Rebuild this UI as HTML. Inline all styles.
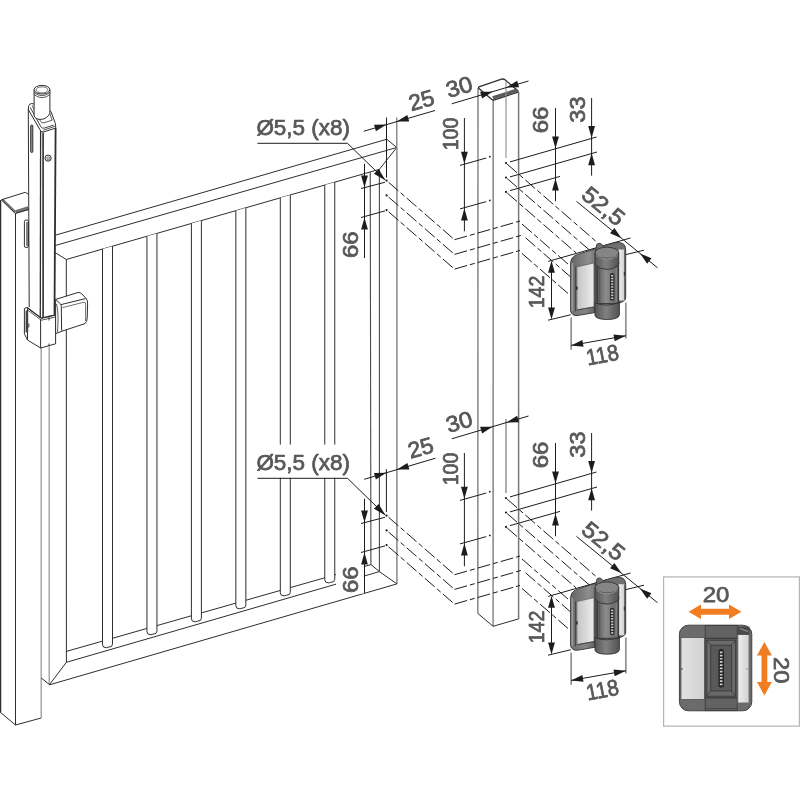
<!DOCTYPE html>
<html><head><meta charset="utf-8"><title>diagram</title>
<style>html,body{margin:0;padding:0;background:#fff;}body{width:800px;height:800px;overflow:hidden;font-family:"Liberation Sans",sans-serif;}svg{display:block;}svg text{filter:grayscale(1);}</style></head>
<body>
<svg width="800" height="800" viewBox="0 0 800 800" font-family="'Liberation Sans', sans-serif" stroke-linecap="butt">
<defs>
<linearGradient id="silv" x1="0" y1="0" x2="1" y2="0"><stop offset="0" stop-color="#c4c4c4"/><stop offset="1" stop-color="#ededed"/></linearGradient>
<linearGradient id="silv2" x1="0" y1="0" x2="1" y2="0"><stop offset="0" stop-color="#f2f2f2"/><stop offset="1" stop-color="#cfcfcf"/></linearGradient>
<linearGradient id="silv3" x1="0" y1="0" x2="1" y2="0"><stop offset="0" stop-color="#e2e2e2"/><stop offset="1" stop-color="#d0d0d0"/></linearGradient>
<linearGradient id="silv4" x1="0" y1="0" x2="1" y2="0"><stop offset="0" stop-color="#f0f0f0"/><stop offset="0.35" stop-color="#e4e4e4"/><stop offset="1" stop-color="#d4d4d4"/></linearGradient>
<linearGradient id="leafg" x1="0" y1="0" x2="1" y2="0"><stop offset="0" stop-color="#707070"/><stop offset="0.6" stop-color="#858585"/><stop offset="1" stop-color="#626262"/></linearGradient>
<linearGradient id="capg" x1="0" y1="0" x2="1" y2="0"><stop offset="0" stop-color="#666"/><stop offset="0.75" stop-color="#8e8e8e"/><stop offset="1" stop-color="#777"/></linearGradient>
<linearGradient id="barg" x1="0" y1="0" x2="1" y2="0"><stop offset="0" stop-color="#565656"/><stop offset="0.45" stop-color="#808080"/><stop offset="1" stop-color="#515151"/></linearGradient>
<linearGradient id="barm" x1="0" y1="0" x2="1" y2="0"><stop offset="0" stop-color="#5c5c5c"/><stop offset="0.4" stop-color="#8c8c8c"/><stop offset="1" stop-color="#606060"/></linearGradient>
</defs>
<rect width="800" height="800" fill="#fff"/>
<line x1="15.60" y1="211.80" x2="28.40" y2="208.00" stroke="#707070" stroke-width="3.4" />
<line x1="2.40" y1="199.60" x2="15.40" y2="212.20" stroke="#777" stroke-width="2.4" />
<line x1="0.55" y1="200.00" x2="0.55" y2="712.00" stroke="#2e2e2e" stroke-width="1.4" />
<path d="M1.4,199.8 L25.2,192.3 L28.5,194.3" stroke="#2e2e2e" stroke-width="1.0" fill="none" />
<path d="M1.4,199.8 L15.3,213.5 L28.5,209.6" stroke="#2e2e2e" stroke-width="1.0" fill="none" />
<line x1="15.50" y1="213.00" x2="15.50" y2="725.00" stroke="#2e2e2e" stroke-width="1.0" />
<path d="M0,712 L15.5,725 L41.2,718" stroke="#2e2e2e" stroke-width="1.0" fill="none" />
<rect x="24.4" y="220" width="4" height="27.5" rx="1.6" fill="#fff" stroke="#2e2e2e" stroke-width="1"/>
<line x1="27.00" y1="222.00" x2="27.00" y2="246.00" stroke="#555" stroke-width="1.4" />
<line x1="55.00" y1="235.30" x2="386.75" y2="139.25" stroke="#2e2e2e" stroke-width="1.0" />
<line x1="55.00" y1="245.60" x2="396.75" y2="147.50" stroke="#2e2e2e" stroke-width="1.0" />
<line x1="66.25" y1="259.50" x2="379.40" y2="169.30" stroke="#2e2e2e" stroke-width="1.0" />
<line x1="386.75" y1="139.25" x2="396.75" y2="147.50" stroke="#2e2e2e" stroke-width="1.0" />
<line x1="396.75" y1="147.50" x2="379.40" y2="169.30" stroke="#2e2e2e" stroke-width="1.0" />
<line x1="55.00" y1="252.50" x2="66.25" y2="259.50" stroke="#2e2e2e" stroke-width="1.0" />
<line x1="66.30" y1="259.50" x2="66.40" y2="662.30" stroke="#2e2e2e" stroke-width="1.0" />
<line x1="41.20" y1="348.00" x2="41.20" y2="718.00" stroke="#9a9a9a" stroke-width="1.3" />
<line x1="49.20" y1="347.00" x2="49.20" y2="684.40" stroke="#9a9a9a" stroke-width="1.3" />
<path d="M41.2,678 L49.5,684.6 L66.4,662.3" stroke="#2e2e2e" stroke-width="1.0" fill="none" />
<line x1="66.40" y1="651.40" x2="371.00" y2="564.60" stroke="#2e2e2e" stroke-width="1.0" />
<line x1="66.40" y1="662.30" x2="379.40" y2="571.60" stroke="#2e2e2e" stroke-width="1.0" />
<line x1="49.50" y1="684.80" x2="396.90" y2="583.90" stroke="#2e2e2e" stroke-width="1.0" />
<line x1="370.25" y1="171.95" x2="370.90" y2="564.60" stroke="#4a4a4a" stroke-width="1.1" />
<line x1="379.40" y1="169.30" x2="379.40" y2="571.60" stroke="#4a4a4a" stroke-width="1.1" />
<line x1="396.90" y1="147.50" x2="396.90" y2="583.90" stroke="#8e8e8e" stroke-width="1.6" />
<path d="M371,564.6 L379.4,571.6 L396.9,583.9" stroke="#2e2e2e" stroke-width="1.0" fill="none" />
<path d="M102.50,249.06 L102.50,644.75 Q102.50,647.75 106.50,647.75 L108.50,647.15 Q112.50,647.15 112.50,644.15 L112.50,246.18" stroke="#2e2e2e" stroke-width="1.0" fill="#fff" />
<path d="M146.95,236.26 L146.95,631.78 Q146.95,634.78 150.95,634.78 L152.95,634.18 Q156.95,634.18 156.95,631.18 L156.95,233.38" stroke="#2e2e2e" stroke-width="1.0" fill="#fff" />
<path d="M191.40,223.46 L191.40,618.82 Q191.40,621.82 195.40,621.82 L197.40,621.22 Q201.40,621.22 201.40,618.22 L201.40,220.58" stroke="#2e2e2e" stroke-width="1.0" fill="#fff" />
<path d="M235.85,210.66 L235.85,605.85 Q235.85,608.85 239.85,608.85 L241.85,608.25 Q245.85,608.25 245.85,605.25 L245.85,207.78" stroke="#2e2e2e" stroke-width="1.0" fill="#fff" />
<path d="M280.30,197.85 L280.30,592.89 Q280.30,595.89 284.30,595.89 L286.30,595.29 Q290.30,595.29 290.30,592.29 L290.30,194.97" stroke="#2e2e2e" stroke-width="1.0" fill="#fff" />
<path d="M324.75,185.05 L324.75,579.92 Q324.75,582.92 328.75,582.92 L330.75,582.32 Q334.75,582.32 334.75,579.32 L334.75,182.17" stroke="#2e2e2e" stroke-width="1.0" fill="#fff" />
<path d="M28.3,110 L28.6,106.2 Q29.3,103.8 31.4,103.5 L35,104.2" stroke="#2e2e2e" stroke-width="1.0" fill="none" />
<path d="M49.9,111 L51,111.6 L55.4,123.5 L55.8,128 L43.8,131.9 Q41.6,132.2 40.6,130.8 L28.3,109.6" stroke="#2e2e2e" stroke-width="1.0" fill="none" />
<path d="M30.2,107.4 L40.9,126.8 Q42.2,128.8 44.6,128 L53.8,125" stroke="#2e2e2e" stroke-width="0.9" fill="none" />
<path d="M32,105.4 L40.6,121.4 Q41.8,123.4 44,122.8 L52.2,120.2 L49.8,113.4" stroke="#2e2e2e" stroke-width="0.8" fill="none" />
<path d="M43.2,130.2 L54.8,126.4" stroke="#2e2e2e" stroke-width="0.8" fill="none" />
<path d="M34.1,89.6 L34.1,116 Q36,119.8 41.5,119.4 Q47,118.8 49.9,113.4 L49.9,89.6" stroke="#2e2e2e" stroke-width="1.0" fill="#fff" />
<ellipse cx="42" cy="89.7" rx="7.9" ry="4.3" fill="#fff" stroke="#2e2e2e" stroke-width="1"/>
<ellipse cx="42" cy="89.9" rx="6" ry="3" fill="none" stroke="#555" stroke-width="0.8"/>
<path d="M34.1,92.6 Q42,98.8 49.9,92.6" stroke="#2e2e2e" stroke-width="0.8" fill="none" />
<path d="M34.1,94.6 Q42,100.8 49.9,94.6" stroke="#2e2e2e" stroke-width="0.8" fill="none" />
<line x1="28.30" y1="109.50" x2="29.20" y2="307.00" stroke="#2e2e2e" stroke-width="1.0" />
<line x1="40.60" y1="131.00" x2="40.30" y2="318.00" stroke="#2e2e2e" stroke-width="1.3" />
<line x1="43.10" y1="132.40" x2="43.10" y2="318.00" stroke="#2e2e2e" stroke-width="1.6" />
<line x1="55.60" y1="128.00" x2="54.50" y2="315.00" stroke="#2e2e2e" stroke-width="1.8" />
<rect x="30.7" y="125" width="2.1" height="27.5" rx="1" fill="#9a9a9a" stroke="#2e2e2e" stroke-width="1"/>
<circle cx="48.1" cy="158.1" r="3.1" fill="#fff" stroke="#2e2e2e" stroke-width="1"/>
<circle cx="48.4" cy="158.4" r="1.7" fill="#bbb" stroke="#555" stroke-width="0.6"/>
<path d="M27,307.5 L24.4,308.5 L24.4,333.8 L27.5,340 L40.6,348 L55.6,343.8 L55.6,315 L41.3,318.2 Z" stroke="#2e2e2e" stroke-width="1.0" fill="#fff" />
<path d="M27,307.5 L41.3,318.2 L55.6,315" stroke="#2e2e2e" stroke-width="1.2" fill="none" />
<path d="M27,309.6 L41.3,320.2 L55.6,317" stroke="#2e2e2e" stroke-width="0.8" fill="none" />
<line x1="27.50" y1="309.00" x2="27.50" y2="340.00" stroke="#2e2e2e" stroke-width="1.0" />
<line x1="40.60" y1="319.00" x2="40.60" y2="348.00" stroke="#2e2e2e" stroke-width="1.0" />
<line x1="26.90" y1="310.50" x2="26.90" y2="332.50" stroke="#444" stroke-width="2.6" />
<path d="M27.5,324 L29,324 L29,327 L27.5,327" stroke="#2e2e2e" stroke-width="0.8" fill="none" />
<line x1="49.00" y1="315.50" x2="49.00" y2="320.50" stroke="#2e2e2e" stroke-width="0.9" />
<line x1="49.00" y1="343.50" x2="49.00" y2="346.50" stroke="#2e2e2e" stroke-width="0.9" />
<path d="M55.6,299.4 L78,292.5 Q80,292.2 81.5,293.6 L86.2,298.6 Q87.8,300.5 87.6,304 L87.2,318 Q87,322 85,323.6 L62.5,331 L56,333.5 L55.6,333 Z" stroke="#2e2e2e" stroke-width="1.0" fill="#fff" />
<path d="M55.6,299.4 L60.6,304 Q61.4,305 61.3,307 L61.6,329 Q61.6,330.6 62.5,331" stroke="#2e2e2e" stroke-width="1.0" fill="none" />
<path d="M61,304.6 L85.6,298.6" stroke="#2e2e2e" stroke-width="1.0" fill="none" />
<path d="M62.5,307.6 L84,302.2 Q85.6,302 85.6,304 L85.6,321" stroke="#2e2e2e" stroke-width="0.7" fill="none" />
<path d="M56.5,304 Q59,312 57.5,332" stroke="#2e2e2e" stroke-width="0.8" fill="none" />
<line x1="478.00" y1="88.00" x2="477.80" y2="613.40" stroke="#8e8e8e" stroke-width="1.6" />
<line x1="493.20" y1="100.00" x2="493.10" y2="626.30" stroke="#8e8e8e" stroke-width="1.6" />
<line x1="518.60" y1="92.00" x2="518.60" y2="618.90" stroke="#777" stroke-width="1.5" />
<path d="M477.8,613.4 L493.1,626.3 L518.6,618.9" stroke="#2e2e2e" stroke-width="1.0" fill="none" />
<path d="M479.6,86.6 L501.5,79.2 Q503.5,78.6 505,79.8 L517.6,90.4 Q518.9,91.6 517.3,92.4 L494.6,99.8 Q493,100.4 491.6,99.2 L479,88.6 Q477.8,87.4 479.6,86.6 Z" stroke="#2e2e2e" stroke-width="1.25" fill="#fff" />
<path d="M493.6,99.6 L517.6,91.9 L516.4,88.6 L492.2,96.3 Z" stroke="none" stroke-width="0" fill="#5c5c5c" />
<g transform="translate(0,0)">
<text transform="translate(303.20,126.60) rotate(0)" x="0" y="8.05" text-anchor="middle" font-size="22.5" font-weight="normal" fill="#58585a" stroke="#58585a" stroke-width="0.75" stroke-linejoin="round" textLength="93.6" lengthAdjust="spacingAndGlyphs">Ø5,5 (x8)</text>
<path d="M257.5,143.3 L347.5,143.3 L385.4,180.2" stroke="#1c1c1c" stroke-width="1.0" fill="none" />
<polygon points="385.60,180.40 373.98,173.70 378.59,168.97" fill="#1c1c1c"/>
<line x1="386.50" y1="117.50" x2="386.50" y2="177.50" stroke="#1c1c1c" stroke-width="1.0" />
<line x1="396.75" y1="117.50" x2="396.75" y2="147.00" stroke="#8e8e8e" stroke-width="1.5" />
<line x1="363.75" y1="131.25" x2="435.00" y2="110.50" stroke="#1c1c1c" stroke-width="1.0" />
<polygon points="386.50,124.60 375.93,131.22 374.03,124.69" fill="#1c1c1c"/>
<polygon points="396.75,121.60 407.32,114.98 409.22,121.51" fill="#1c1c1c"/>
<text transform="translate(421.30,100.00) rotate(-16)" x="0" y="8.05" text-anchor="middle" font-size="22.5" font-weight="normal" fill="#58585a" stroke="#58585a" stroke-width="0.75" stroke-linejoin="round" textLength="25.6" lengthAdjust="spacingAndGlyphs">25</text>
<line x1="364.50" y1="163.75" x2="364.50" y2="258.00" stroke="#1c1c1c" stroke-width="1.0" />
<polygon points="364.50,187.60 361.10,175.60 367.90,175.60" fill="#1c1c1c"/>
<polygon points="364.50,217.60 367.90,229.60 361.10,229.60" fill="#1c1c1c"/>
<line x1="361.00" y1="188.50" x2="385.00" y2="182.25" stroke="#1c1c1c" stroke-width="1.0" />
<line x1="361.00" y1="217.50" x2="385.00" y2="210.90" stroke="#1c1c1c" stroke-width="1.0" />
<text transform="translate(350.00,244.70) rotate(-90)" x="0" y="8.05" text-anchor="middle" font-size="22.5" font-weight="normal" fill="#58585a" stroke="#58585a" stroke-width="0.75" stroke-linejoin="round" textLength="26.6" lengthAdjust="spacingAndGlyphs">66</text>
<circle cx="386.6" cy="180.6" r="1.1" fill="#1c1c1c"/>
<circle cx="386.6" cy="195.4" r="1.1" fill="#1c1c1c"/>
<circle cx="386.6" cy="210.1" r="1.1" fill="#1c1c1c"/>
<line x1="388.60" y1="182.30" x2="454.50" y2="239.70" stroke="#1c1c1c" stroke-width="1.0" stroke-dasharray="13 3 5 3"/>
<line x1="454.50" y1="239.70" x2="520.00" y2="221.03" stroke="#1c1c1c" stroke-width="1.0" stroke-dasharray="13 3 5 3"/>
<line x1="522.00" y1="224.03" x2="570.00" y2="265.79" stroke="#1c1c1c" stroke-width="1.0" stroke-dasharray="13 3 5 3"/>
<line x1="388.60" y1="197.10" x2="454.50" y2="254.40" stroke="#1c1c1c" stroke-width="1.0" stroke-dasharray="13 3 5 3"/>
<line x1="454.50" y1="254.40" x2="523.50" y2="234.73" stroke="#1c1c1c" stroke-width="1.0" stroke-dasharray="13 3 5 3"/>
<line x1="525.50" y1="237.73" x2="570.00" y2="276.45" stroke="#1c1c1c" stroke-width="1.0" stroke-dasharray="13 3 5 3"/>
<line x1="388.60" y1="211.80" x2="454.50" y2="269.10" stroke="#1c1c1c" stroke-width="1.0" stroke-dasharray="13 3 5 3"/>
<line x1="454.50" y1="269.10" x2="520.00" y2="250.43" stroke="#1c1c1c" stroke-width="1.0" stroke-dasharray="13 3 5 3"/>
<line x1="522.00" y1="253.43" x2="570.00" y2="295.19" stroke="#1c1c1c" stroke-width="1.0" stroke-dasharray="13 3 5 3"/>
<circle cx="506" cy="163.1" r="1.1" fill="#1c1c1c"/>
<circle cx="506" cy="177.5" r="1.1" fill="#1c1c1c"/>
<circle cx="506" cy="191.9" r="1.1" fill="#1c1c1c"/>
<circle cx="489.8" cy="156.7" r="0.9" fill="#1c1c1c"/>
<circle cx="489.8" cy="200.4" r="0.9" fill="#1c1c1c"/>
<line x1="507.20" y1="164.20" x2="597.00" y2="242.27" stroke="#1c1c1c" stroke-width="1.0" stroke-dasharray="13 3 5 3"/>
<line x1="507.20" y1="178.60" x2="589.00" y2="249.71" stroke="#1c1c1c" stroke-width="1.0" stroke-dasharray="13 3 5 3"/>
<line x1="507.20" y1="193.00" x2="576.00" y2="252.80" stroke="#1c1c1c" stroke-width="1.0" stroke-dasharray="13 3 5 3"/>
<line x1="506.00" y1="81.00" x2="506.00" y2="158.00" stroke="#8e8e8e" stroke-width="1.1" />
<line x1="451.75" y1="103.80" x2="528.50" y2="81.00" stroke="#1c1c1c" stroke-width="1.0" />
<polygon points="492.60,91.70 482.07,98.38 480.13,91.86" fill="#1c1c1c"/>
<polygon points="506.60,87.50 517.13,80.82 519.07,87.34" fill="#1c1c1c"/>
<text transform="translate(459.00,86.60) rotate(-16)" x="0" y="8.05" text-anchor="middle" font-size="22.5" font-weight="normal" fill="#58585a" stroke="#58585a" stroke-width="0.75" stroke-linejoin="round" textLength="26.6" lengthAdjust="spacingAndGlyphs">30</text>
<line x1="464.40" y1="118.00" x2="464.40" y2="231.25" stroke="#1c1c1c" stroke-width="1.0" />
<polygon points="464.40,163.80 461.00,151.80 467.80,151.80" fill="#1c1c1c"/>
<polygon points="464.40,208.60 467.80,220.60 461.00,220.60" fill="#1c1c1c"/>
<line x1="460.00" y1="165.40" x2="486.25" y2="158.00" stroke="#1c1c1c" stroke-width="1.0" />
<line x1="460.00" y1="208.90" x2="486.25" y2="201.60" stroke="#1c1c1c" stroke-width="1.0" />
<text transform="translate(449.60,134.00) rotate(-90)" x="0" y="8.05" text-anchor="middle" font-size="22.5" font-weight="normal" fill="#58585a" stroke="#58585a" stroke-width="0.75" stroke-linejoin="round" textLength="32.6" lengthAdjust="spacingAndGlyphs">100</text>
<line x1="555.50" y1="108.00" x2="555.50" y2="201.25" stroke="#1c1c1c" stroke-width="1.0" />
<polygon points="555.50,148.40 552.10,136.40 558.90,136.40" fill="#1c1c1c"/>
<polygon points="555.50,178.60 558.90,190.60 552.10,190.60" fill="#1c1c1c"/>
<line x1="510.00" y1="161.90" x2="596.50" y2="137.00" stroke="#1c1c1c" stroke-width="1.0" />
<line x1="510.00" y1="176.90" x2="597.00" y2="152.00" stroke="#1c1c1c" stroke-width="1.0" />
<line x1="510.00" y1="190.60" x2="560.00" y2="176.40" stroke="#1c1c1c" stroke-width="1.0" />
<text transform="translate(540.00,120.00) rotate(-90)" x="0" y="8.05" text-anchor="middle" font-size="22.5" font-weight="normal" fill="#58585a" stroke="#58585a" stroke-width="0.75" stroke-linejoin="round" textLength="26.6" lengthAdjust="spacingAndGlyphs">66</text>
<line x1="591.60" y1="98.00" x2="591.60" y2="175.60" stroke="#1c1c1c" stroke-width="1.0" />
<polygon points="591.60,138.00 588.20,126.00 595.00,126.00" fill="#1c1c1c"/>
<polygon points="591.60,153.20 595.00,165.20 588.20,165.20" fill="#1c1c1c"/>
<text transform="translate(576.50,109.60) rotate(-90)" x="0" y="8.05" text-anchor="middle" font-size="22.5" font-weight="normal" fill="#58585a" stroke="#58585a" stroke-width="0.75" stroke-linejoin="round" textLength="26.1" lengthAdjust="spacingAndGlyphs">33</text>
<line x1="576.50" y1="201.40" x2="657.50" y2="267.75" stroke="#1c1c1c" stroke-width="1.0" />
<polygon points="621.50,238.30 610.06,233.33 614.37,228.07" fill="#1c1c1c"/>
<polygon points="640.00,253.40 651.44,258.37 647.13,263.63" fill="#1c1c1c"/>
<line x1="548.20" y1="261.40" x2="630.50" y2="238.00" stroke="#1c1c1c" stroke-width="1.0" />
<line x1="621.00" y1="255.80" x2="644.00" y2="250.20" stroke="#1c1c1c" stroke-width="1.0" />
<text transform="translate(603.60,205.80) rotate(39.3)" x="0" y="8.05" text-anchor="middle" font-size="22.5" font-weight="normal" fill="#58585a" stroke="#58585a" stroke-width="0.75" stroke-linejoin="round" textLength="47.6" lengthAdjust="spacingAndGlyphs">52,5</text>
<line x1="551.50" y1="261.90" x2="551.50" y2="318.20" stroke="#1c1c1c" stroke-width="1.0" />
<polygon points="551.50,260.80 554.90,272.80 548.10,272.80" fill="#1c1c1c"/>
<polygon points="551.50,319.40 548.10,307.40 554.90,307.40" fill="#1c1c1c"/>
<line x1="548.00" y1="320.20" x2="570.75" y2="314.75" stroke="#1c1c1c" stroke-width="1.0" />
<text transform="translate(535.75,292.00) rotate(-90)" x="0" y="8.05" text-anchor="middle" font-size="22.5" font-weight="normal" fill="#58585a" stroke="#58585a" stroke-width="0.75" stroke-linejoin="round" textLength="32.6" lengthAdjust="spacingAndGlyphs">142</text>
<line x1="571.10" y1="317.40" x2="571.10" y2="349.75" stroke="#555" stroke-width="1.1" />
<line x1="625.90" y1="302.50" x2="625.90" y2="338.40" stroke="#555" stroke-width="1.1" />
<line x1="571.10" y1="345.40" x2="625.90" y2="335.75" stroke="#1c1c1c" stroke-width="1.0" />
<polygon points="571.10,345.40 582.33,339.97 583.51,346.67" fill="#1c1c1c"/>
<polygon points="625.90,335.75 614.67,341.18 613.49,334.48" fill="#1c1c1c"/>
<text transform="translate(602.30,354.60) rotate(-11)" x="0" y="8.05" text-anchor="middle" font-size="22.5" font-weight="normal" fill="#58585a" stroke="#58585a" stroke-width="0.75" stroke-linejoin="round" textLength="32.6" lengthAdjust="spacingAndGlyphs">118</text>
</g>
<g transform="translate(0,335)">
<rect x="255" y="109.6" width="97" height="33.2" fill="#fff"/>
<text transform="translate(303.20,126.60) rotate(0)" x="0" y="8.05" text-anchor="middle" font-size="22.5" font-weight="normal" fill="#58585a" stroke="#58585a" stroke-width="0.75" stroke-linejoin="round" textLength="93.6" lengthAdjust="spacingAndGlyphs">Ø5,5 (x8)</text>
<path d="M257.5,143.3 L347.5,143.3 L385.4,180.2" stroke="#1c1c1c" stroke-width="1.0" fill="none" />
<polygon points="385.60,180.40 373.98,173.70 378.59,168.97" fill="#1c1c1c"/>
<line x1="386.40" y1="134.25" x2="386.40" y2="177.00" stroke="#1c1c1c" stroke-width="1.0" />
<line x1="364.20" y1="144.30" x2="435.50" y2="123.20" stroke="#1c1c1c" stroke-width="1.0" />
<polygon points="386.40,137.80 375.86,144.47 373.93,137.94" fill="#1c1c1c"/>
<polygon points="396.90,134.60 407.44,127.93 409.37,134.46" fill="#1c1c1c"/>
<text transform="translate(420.60,112.50) rotate(-16)" x="0" y="8.05" text-anchor="middle" font-size="22.5" font-weight="normal" fill="#58585a" stroke="#58585a" stroke-width="0.75" stroke-linejoin="round" textLength="25.6" lengthAdjust="spacingAndGlyphs">25</text>
<rect x="336" y="222" width="27.8" height="36.5" fill="#fff"/>
<line x1="364.50" y1="163.75" x2="364.50" y2="258.00" stroke="#1c1c1c" stroke-width="1.0" />
<polygon points="364.50,187.60 361.10,175.60 367.90,175.60" fill="#1c1c1c"/>
<polygon points="364.50,217.60 367.90,229.60 361.10,229.60" fill="#1c1c1c"/>
<line x1="361.00" y1="188.50" x2="385.00" y2="182.25" stroke="#1c1c1c" stroke-width="1.0" />
<line x1="361.00" y1="217.50" x2="385.00" y2="210.90" stroke="#1c1c1c" stroke-width="1.0" />
<text transform="translate(350.00,244.70) rotate(-90)" x="0" y="8.05" text-anchor="middle" font-size="22.5" font-weight="normal" fill="#58585a" stroke="#58585a" stroke-width="0.75" stroke-linejoin="round" textLength="26.6" lengthAdjust="spacingAndGlyphs">66</text>
<circle cx="386.6" cy="180.6" r="1.1" fill="#1c1c1c"/>
<circle cx="386.6" cy="195.4" r="1.1" fill="#1c1c1c"/>
<circle cx="386.6" cy="210.1" r="1.1" fill="#1c1c1c"/>
<line x1="388.60" y1="182.30" x2="454.50" y2="239.70" stroke="#1c1c1c" stroke-width="1.0" stroke-dasharray="13 3 5 3"/>
<line x1="454.50" y1="239.70" x2="520.00" y2="221.03" stroke="#1c1c1c" stroke-width="1.0" stroke-dasharray="13 3 5 3"/>
<line x1="522.00" y1="224.03" x2="570.00" y2="265.79" stroke="#1c1c1c" stroke-width="1.0" stroke-dasharray="13 3 5 3"/>
<line x1="388.60" y1="197.10" x2="454.50" y2="254.40" stroke="#1c1c1c" stroke-width="1.0" stroke-dasharray="13 3 5 3"/>
<line x1="454.50" y1="254.40" x2="523.50" y2="234.73" stroke="#1c1c1c" stroke-width="1.0" stroke-dasharray="13 3 5 3"/>
<line x1="525.50" y1="237.73" x2="570.00" y2="276.45" stroke="#1c1c1c" stroke-width="1.0" stroke-dasharray="13 3 5 3"/>
<line x1="388.60" y1="211.80" x2="454.50" y2="269.10" stroke="#1c1c1c" stroke-width="1.0" stroke-dasharray="13 3 5 3"/>
<line x1="454.50" y1="269.10" x2="520.00" y2="250.43" stroke="#1c1c1c" stroke-width="1.0" stroke-dasharray="13 3 5 3"/>
<line x1="522.00" y1="253.43" x2="570.00" y2="295.19" stroke="#1c1c1c" stroke-width="1.0" stroke-dasharray="13 3 5 3"/>
<circle cx="506" cy="163.1" r="1.1" fill="#1c1c1c"/>
<circle cx="506" cy="177.5" r="1.1" fill="#1c1c1c"/>
<circle cx="506" cy="191.9" r="1.1" fill="#1c1c1c"/>
<circle cx="489.8" cy="156.7" r="0.9" fill="#1c1c1c"/>
<circle cx="489.8" cy="200.4" r="0.9" fill="#1c1c1c"/>
<line x1="507.20" y1="164.20" x2="597.00" y2="242.27" stroke="#1c1c1c" stroke-width="1.0" stroke-dasharray="13 3 5 3"/>
<line x1="507.20" y1="178.60" x2="589.00" y2="249.71" stroke="#1c1c1c" stroke-width="1.0" stroke-dasharray="13 3 5 3"/>
<line x1="507.20" y1="193.00" x2="576.00" y2="252.80" stroke="#1c1c1c" stroke-width="1.0" stroke-dasharray="13 3 5 3"/>
<line x1="506.00" y1="84.00" x2="506.00" y2="158.00" stroke="#6a6a6a" stroke-width="1.1" />
<line x1="451.75" y1="103.80" x2="528.50" y2="81.00" stroke="#1c1c1c" stroke-width="1.0" />
<polygon points="492.60,91.70 482.07,98.38 480.13,91.86" fill="#1c1c1c"/>
<polygon points="506.60,87.50 517.13,80.82 519.07,87.34" fill="#1c1c1c"/>
<text transform="translate(459.00,86.60) rotate(-16)" x="0" y="8.05" text-anchor="middle" font-size="22.5" font-weight="normal" fill="#58585a" stroke="#58585a" stroke-width="0.75" stroke-linejoin="round" textLength="26.6" lengthAdjust="spacingAndGlyphs">30</text>
<line x1="464.40" y1="118.00" x2="464.40" y2="231.25" stroke="#1c1c1c" stroke-width="1.0" />
<polygon points="464.40,163.80 461.00,151.80 467.80,151.80" fill="#1c1c1c"/>
<polygon points="464.40,208.60 467.80,220.60 461.00,220.60" fill="#1c1c1c"/>
<line x1="460.00" y1="165.40" x2="486.25" y2="158.00" stroke="#1c1c1c" stroke-width="1.0" />
<line x1="460.00" y1="208.90" x2="486.25" y2="201.60" stroke="#1c1c1c" stroke-width="1.0" />
<text transform="translate(449.60,134.00) rotate(-90)" x="0" y="8.05" text-anchor="middle" font-size="22.5" font-weight="normal" fill="#58585a" stroke="#58585a" stroke-width="0.75" stroke-linejoin="round" textLength="32.6" lengthAdjust="spacingAndGlyphs">100</text>
<line x1="555.50" y1="108.00" x2="555.50" y2="201.25" stroke="#1c1c1c" stroke-width="1.0" />
<polygon points="555.50,148.40 552.10,136.40 558.90,136.40" fill="#1c1c1c"/>
<polygon points="555.50,178.60 558.90,190.60 552.10,190.60" fill="#1c1c1c"/>
<line x1="510.00" y1="161.90" x2="596.50" y2="137.00" stroke="#1c1c1c" stroke-width="1.0" />
<line x1="510.00" y1="176.90" x2="597.00" y2="152.00" stroke="#1c1c1c" stroke-width="1.0" />
<line x1="510.00" y1="190.60" x2="560.00" y2="176.40" stroke="#1c1c1c" stroke-width="1.0" />
<text transform="translate(540.00,120.00) rotate(-90)" x="0" y="8.05" text-anchor="middle" font-size="22.5" font-weight="normal" fill="#58585a" stroke="#58585a" stroke-width="0.75" stroke-linejoin="round" textLength="26.6" lengthAdjust="spacingAndGlyphs">66</text>
<line x1="591.60" y1="98.00" x2="591.60" y2="175.60" stroke="#1c1c1c" stroke-width="1.0" />
<polygon points="591.60,138.00 588.20,126.00 595.00,126.00" fill="#1c1c1c"/>
<polygon points="591.60,153.20 595.00,165.20 588.20,165.20" fill="#1c1c1c"/>
<text transform="translate(576.50,109.60) rotate(-90)" x="0" y="8.05" text-anchor="middle" font-size="22.5" font-weight="normal" fill="#58585a" stroke="#58585a" stroke-width="0.75" stroke-linejoin="round" textLength="26.1" lengthAdjust="spacingAndGlyphs">33</text>
<line x1="576.50" y1="201.40" x2="657.50" y2="267.75" stroke="#1c1c1c" stroke-width="1.0" />
<polygon points="621.50,238.30 610.06,233.33 614.37,228.07" fill="#1c1c1c"/>
<polygon points="640.00,253.40 651.44,258.37 647.13,263.63" fill="#1c1c1c"/>
<line x1="548.20" y1="261.40" x2="630.50" y2="238.00" stroke="#1c1c1c" stroke-width="1.0" />
<line x1="621.00" y1="255.80" x2="644.00" y2="250.20" stroke="#1c1c1c" stroke-width="1.0" />
<text transform="translate(603.60,205.80) rotate(39.3)" x="0" y="8.05" text-anchor="middle" font-size="22.5" font-weight="normal" fill="#58585a" stroke="#58585a" stroke-width="0.75" stroke-linejoin="round" textLength="47.6" lengthAdjust="spacingAndGlyphs">52,5</text>
<line x1="551.50" y1="261.90" x2="551.50" y2="318.20" stroke="#1c1c1c" stroke-width="1.0" />
<polygon points="551.50,260.80 554.90,272.80 548.10,272.80" fill="#1c1c1c"/>
<polygon points="551.50,319.40 548.10,307.40 554.90,307.40" fill="#1c1c1c"/>
<line x1="548.00" y1="320.20" x2="570.75" y2="314.75" stroke="#1c1c1c" stroke-width="1.0" />
<text transform="translate(535.75,292.00) rotate(-90)" x="0" y="8.05" text-anchor="middle" font-size="22.5" font-weight="normal" fill="#58585a" stroke="#58585a" stroke-width="0.75" stroke-linejoin="round" textLength="32.6" lengthAdjust="spacingAndGlyphs">142</text>
<line x1="571.10" y1="317.40" x2="571.10" y2="349.75" stroke="#555" stroke-width="1.1" />
<line x1="625.90" y1="302.50" x2="625.90" y2="338.40" stroke="#555" stroke-width="1.1" />
<line x1="571.10" y1="345.40" x2="625.90" y2="335.75" stroke="#1c1c1c" stroke-width="1.0" />
<polygon points="571.10,345.40 582.33,339.97 583.51,346.67" fill="#1c1c1c"/>
<polygon points="625.90,335.75 614.67,341.18 613.49,334.48" fill="#1c1c1c"/>
<text transform="translate(602.30,354.60) rotate(-11)" x="0" y="8.05" text-anchor="middle" font-size="22.5" font-weight="normal" fill="#58585a" stroke="#58585a" stroke-width="0.75" stroke-linejoin="round" textLength="32.6" lengthAdjust="spacingAndGlyphs">118</text>
</g>
<g transform="translate(0,0)">
<path d="M596.2,252 L596.4,246 Q596.6,243.4 599,243.2 Q601.6,243.2 603,246 L615,242.6 Q620,242 623,243.6 Q625.6,245.4 625.7,250 L625.7,298 Q625.6,300.6 622,302 L617,304 Z" stroke="#333" stroke-width="0.9" fill="#707070" />
<rect x="618.6" y="249.5" width="5.8" height="51" fill="url(#silv2)"/>
<line x1="624.90" y1="250.00" x2="624.90" y2="299.00" stroke="#4a4a4a" stroke-width="0.9" />
<rect x="623.8" y="272" width="1.2" height="3.5" fill="#333"/>
<path d="M570.6,262.5 Q571,257.6 575,255.6 Q578,254.2 580,253.75 L595.4,248.6 L595.4,312.5 L577,315.6 Q572,315.8 570.6,311.2 Z" stroke="#333" stroke-width="0.9" fill="url(#leafg)" />
<path d="M571.6,262.6 Q572,258 575.4,256.2 Q578,254.8 580,254.4 L594.8,249.5 L594.8,262.8 L576.9,266.9 L572,265 Z" stroke="none" stroke-width="0" fill="url(#capg)" />
<path d="M576.9,266.9 L593.9,263 L593.9,306.9 L576.9,310 Z" stroke="#555" stroke-width="0.6" fill="url(#silv)" />
<path d="M572.3,263 L572.3,311 " stroke="#9c9c9c" stroke-width="1.6" fill="none" />
<path d="M575.4,266.5 L575.4,311.5" stroke="#3c3c3c" stroke-width="0.9" fill="none" />
<path d="M576.9,310 L593.9,306.9 L595,312.3" stroke="#3c3c3c" stroke-width="0.8" fill="none" />
<rect x="576.2" y="286.6" width="1.4" height="3.2" fill="#222"/>
<path d="M595,302 L595,315.5 Q596,319.4 607.2,319.5 Q618.6,319.4 619.4,315 L619.4,301.5 Z" stroke="#333" stroke-width="0.9" fill="url(#barg)" />
<rect x="594.8" y="262" width="24.4" height="42" fill="#4c4c4c"/>
<rect x="597.4" y="266" width="20.8" height="37.5" fill="url(#barm)" stroke="#333" stroke-width="0.8"/>
<line x1="599.60" y1="268.00" x2="599.60" y2="302.00" stroke="#555" stroke-width="0.8" />
<line x1="616.20" y1="268.00" x2="616.20" y2="302.00" stroke="#999" stroke-width="0.8" />
<path d="M595,303 Q607,307.5 619.4,302.4" stroke="#333" stroke-width="0.9" fill="none" />
<path d="M595,253 L595,264.5 Q600,269.6 607,269.4 Q614,269.4 618.8,264.4 L618.8,253 Z" stroke="#333" stroke-width="0.9" fill="url(#barg)" />
<ellipse cx="606.9" cy="252.8" rx="11.9" ry="5.6" fill="#858585" stroke="#333" stroke-width="0.9"/>
<path d="M596,255.6 Q606.9,262.6 617.8,255.6" stroke="#9a9a9a" stroke-width="0.9" fill="none" />
<rect x="610" y="273" width="4.4" height="27.6" rx="2.2" fill="#2c2c2c"/>
<rect x="611.1" y="275.0" width="2.2" height="1.5" fill="#cfcfcf"/>
<rect x="611.1" y="277.8" width="2.2" height="1.5" fill="#cfcfcf"/>
<rect x="611.1" y="280.6" width="2.2" height="1.5" fill="#cfcfcf"/>
<rect x="611.1" y="283.4" width="2.2" height="1.5" fill="#cfcfcf"/>
<rect x="611.1" y="286.2" width="2.2" height="1.5" fill="#cfcfcf"/>
<rect x="611.1" y="289.0" width="2.2" height="1.5" fill="#cfcfcf"/>
<rect x="611.1" y="291.8" width="2.2" height="1.5" fill="#cfcfcf"/>
<rect x="611.1" y="294.6" width="2.2" height="1.5" fill="#cfcfcf"/>
<rect x="611.1" y="297.4" width="2.2" height="1.5" fill="#cfcfcf"/>
</g>
<g transform="translate(0,334.7)">
<path d="M596.2,252 L596.4,246 Q596.6,243.4 599,243.2 Q601.6,243.2 603,246 L615,242.6 Q620,242 623,243.6 Q625.6,245.4 625.7,250 L625.7,298 Q625.6,300.6 622,302 L617,304 Z" stroke="#333" stroke-width="0.9" fill="#707070" />
<rect x="618.6" y="249.5" width="5.8" height="51" fill="url(#silv2)"/>
<line x1="624.90" y1="250.00" x2="624.90" y2="299.00" stroke="#4a4a4a" stroke-width="0.9" />
<rect x="623.8" y="272" width="1.2" height="3.5" fill="#333"/>
<path d="M570.6,262.5 Q571,257.6 575,255.6 Q578,254.2 580,253.75 L595.4,248.6 L595.4,312.5 L577,315.6 Q572,315.8 570.6,311.2 Z" stroke="#333" stroke-width="0.9" fill="url(#leafg)" />
<path d="M571.6,262.6 Q572,258 575.4,256.2 Q578,254.8 580,254.4 L594.8,249.5 L594.8,262.8 L576.9,266.9 L572,265 Z" stroke="none" stroke-width="0" fill="url(#capg)" />
<path d="M576.9,266.9 L593.9,263 L593.9,306.9 L576.9,310 Z" stroke="#555" stroke-width="0.6" fill="url(#silv)" />
<path d="M572.3,263 L572.3,311 " stroke="#9c9c9c" stroke-width="1.6" fill="none" />
<path d="M575.4,266.5 L575.4,311.5" stroke="#3c3c3c" stroke-width="0.9" fill="none" />
<path d="M576.9,310 L593.9,306.9 L595,312.3" stroke="#3c3c3c" stroke-width="0.8" fill="none" />
<rect x="576.2" y="286.6" width="1.4" height="3.2" fill="#222"/>
<path d="M595,302 L595,315.5 Q596,319.4 607.2,319.5 Q618.6,319.4 619.4,315 L619.4,301.5 Z" stroke="#333" stroke-width="0.9" fill="url(#barg)" />
<rect x="594.8" y="262" width="24.4" height="42" fill="#4c4c4c"/>
<rect x="597.4" y="266" width="20.8" height="37.5" fill="url(#barm)" stroke="#333" stroke-width="0.8"/>
<line x1="599.60" y1="268.00" x2="599.60" y2="302.00" stroke="#555" stroke-width="0.8" />
<line x1="616.20" y1="268.00" x2="616.20" y2="302.00" stroke="#999" stroke-width="0.8" />
<path d="M595,303 Q607,307.5 619.4,302.4" stroke="#333" stroke-width="0.9" fill="none" />
<path d="M595,253 L595,264.5 Q600,269.6 607,269.4 Q614,269.4 618.8,264.4 L618.8,253 Z" stroke="#333" stroke-width="0.9" fill="url(#barg)" />
<ellipse cx="606.9" cy="252.8" rx="11.9" ry="5.6" fill="#858585" stroke="#333" stroke-width="0.9"/>
<path d="M596,255.6 Q606.9,262.6 617.8,255.6" stroke="#9a9a9a" stroke-width="0.9" fill="none" />
<rect x="610" y="273" width="4.4" height="27.6" rx="2.2" fill="#2c2c2c"/>
<rect x="611.1" y="275.0" width="2.2" height="1.5" fill="#cfcfcf"/>
<rect x="611.1" y="277.8" width="2.2" height="1.5" fill="#cfcfcf"/>
<rect x="611.1" y="280.6" width="2.2" height="1.5" fill="#cfcfcf"/>
<rect x="611.1" y="283.4" width="2.2" height="1.5" fill="#cfcfcf"/>
<rect x="611.1" y="286.2" width="2.2" height="1.5" fill="#cfcfcf"/>
<rect x="611.1" y="289.0" width="2.2" height="1.5" fill="#cfcfcf"/>
<rect x="611.1" y="291.8" width="2.2" height="1.5" fill="#cfcfcf"/>
<rect x="611.1" y="294.6" width="2.2" height="1.5" fill="#cfcfcf"/>
<rect x="611.1" y="297.4" width="2.2" height="1.5" fill="#cfcfcf"/>
</g>
<rect x="663.6" y="576.9" width="135.8" height="149.2" fill="#fff" stroke="#b4b4b4" stroke-width="1.2"/>
<rect x="679.4" y="625.2" width="72.4" height="85.6" rx="9" fill="#6b6b6b" stroke="#3a3a3a" stroke-width="0.9"/>
<rect x="681" y="637.6" width="23.6" height="61.8" fill="url(#silv3)" stroke="#4c4c4c" stroke-width="0.7"/>
<rect x="705.2" y="625.4" width="32" height="85.2" fill="#626262" stroke="#3c3c3c" stroke-width="0.9"/>
<line x1="705.20" y1="638.40" x2="737.20" y2="638.40" stroke="#3c3c3c" stroke-width="1.2" />
<line x1="705.20" y1="697.80" x2="737.20" y2="697.80" stroke="#3c3c3c" stroke-width="1.2" />
<line x1="705.20" y1="708.60" x2="737.20" y2="708.60" stroke="#444" stroke-width="0.8" />
<rect x="706.8" y="640.2" width="28.8" height="56" fill="#6a6a6a" stroke="#3a3a3a" stroke-width="0.9"/>
<rect x="710.8" y="645.2" width="20.8" height="45.8" fill="#595959" stroke="#3a3a3a" stroke-width="0.9"/>
<line x1="706.80" y1="640.20" x2="710.80" y2="645.20" stroke="#3a3a3a" stroke-width="0.8" />
<line x1="735.60" y1="640.20" x2="731.60" y2="645.20" stroke="#3a3a3a" stroke-width="0.8" />
<line x1="706.80" y1="696.20" x2="710.80" y2="691.00" stroke="#3a3a3a" stroke-width="0.8" />
<line x1="735.60" y1="696.20" x2="731.60" y2="691.00" stroke="#3a3a3a" stroke-width="0.8" />
<rect x="718.4" y="649" width="5.6" height="38.5" rx="2.8" fill="#262626"/>
<rect x="719.8" y="651.5" width="2.8" height="1.7" rx="0.6" fill="#d0d0d0"/>
<rect x="719.8" y="654.7" width="2.8" height="1.7" rx="0.6" fill="#d0d0d0"/>
<rect x="719.8" y="657.9" width="2.8" height="1.7" rx="0.6" fill="#d0d0d0"/>
<rect x="719.8" y="661.1" width="2.8" height="1.7" rx="0.6" fill="#d0d0d0"/>
<rect x="719.8" y="664.3" width="2.8" height="1.7" rx="0.6" fill="#d0d0d0"/>
<rect x="719.8" y="667.5" width="2.8" height="1.7" rx="0.6" fill="#d0d0d0"/>
<rect x="719.8" y="670.7" width="2.8" height="1.7" rx="0.6" fill="#d0d0d0"/>
<rect x="719.8" y="673.9" width="2.8" height="1.7" rx="0.6" fill="#d0d0d0"/>
<rect x="719.8" y="677.1" width="2.8" height="1.7" rx="0.6" fill="#d0d0d0"/>
<rect x="719.8" y="680.3" width="2.8" height="1.7" rx="0.6" fill="#d0d0d0"/>
<rect x="719.8" y="683.5" width="2.8" height="1.7" rx="0.6" fill="#d0d0d0"/>
<rect x="737.6" y="635" width="11" height="67.5" fill="url(#silv4)"/>
<line x1="737.80" y1="635.00" x2="737.80" y2="702.50" stroke="#4a4a4a" stroke-width="0.8" />
<rect x="738" y="626.6" width="11.5" height="8" fill="#4a4a4a"/>
<line x1="740.00" y1="628.50" x2="748.00" y2="631.50" stroke="#aaa" stroke-width="0.8" />
<line x1="681.00" y1="669.00" x2="683.00" y2="669.00" stroke="#444" stroke-width="1.0" />
<line x1="746.40" y1="669.00" x2="748.40" y2="669.00" stroke="#888" stroke-width="1.0" />
<polygon points="688.5,611.8 701,604.5 701,608.8 729,608.8 729,604.5 741.5,611.8 729,619.1 729,614.8 701,614.8 701,619.1" fill="#f07d22"/>
<polygon points="764.4,642 771.9,655.5 767.3,655.5 767.3,682 771.9,682 764.4,695.4 756.9,682 761.5,682 761.5,655.5 756.9,655.5" fill="#f07d22"/>
<text transform="translate(716.00,594.00) rotate(0)" x="0" y="8.05" text-anchor="middle" font-size="22.5" font-weight="normal" fill="#58585a" stroke="#58585a" stroke-width="0.75" stroke-linejoin="round" textLength="26.6" lengthAdjust="spacingAndGlyphs">20</text>
<text transform="translate(781.80,670.20) rotate(90)" x="0" y="8.05" text-anchor="middle" font-size="22.5" font-weight="normal" fill="#58585a" stroke="#58585a" stroke-width="0.75" stroke-linejoin="round" textLength="26.6" lengthAdjust="spacingAndGlyphs">20</text>
</svg>
</body></html>
